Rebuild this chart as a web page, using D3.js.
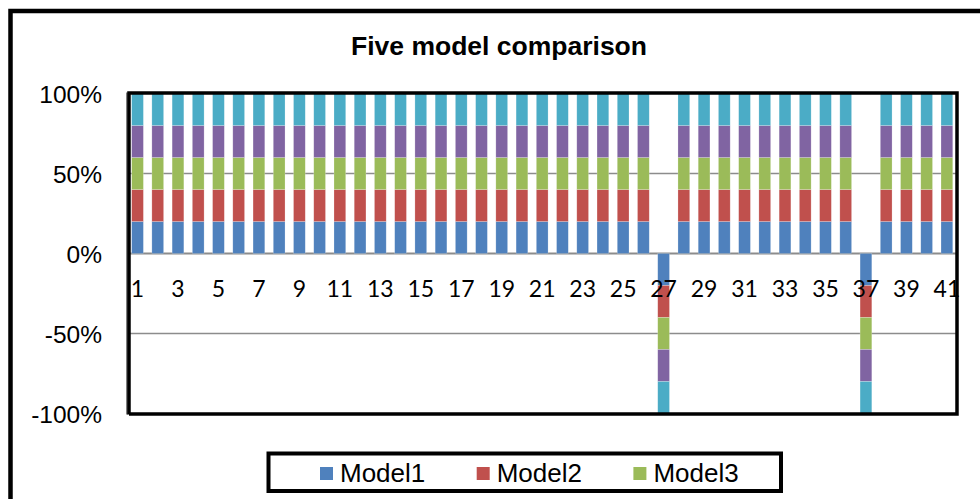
<!DOCTYPE html>
<html><head><meta charset="utf-8">
<script src="https://cdn.jsdelivr.net/npm/d3@7"></script>
<style>html,body{margin:0;padding:0;background:#fff;overflow:hidden}</style>
</head><body>
<svg id="c" width="980" height="499"></svg>
<script>
const categories = d3.range(1, 42).map(String);
const seriesNames = ["Model1","Model2","Model3","Model4","Model5"];
const colors = ["#4F81BD","#C0504D","#9BBB59","#8064A2","#4BACC6"];
// share of each model per category (percent); categories 27 and 37 are negative
const model1 = categories.map(c => (c==="27"||c==="37") ? -20 : 20);
const model2 = categories.map(c => (c==="27"||c==="37") ? -20 : 20);
const model3 = categories.map(c => (c==="27"||c==="37") ? -20 : 20);
const model4 = categories.map(c => (c==="27"||c==="37") ? -20 : 20);
const model5 = categories.map(c => (c==="27"||c==="37") ? -20 : 20);
const yTicks = [-100, -50, 0, 50, 100];
const xTickLabels = categories.filter((c,i) => i % 2 === 0);
const legendShown = ["Model1","Model2","Model3"];

const values = [model1, model2, model3, model4, model5];
const svg = d3.select("#c");
const L = 127.4, R = 957, T = 93.5, B = 413.5;
const x = d3.scaleBand().domain(categories).range([L, R]).paddingInner(0.42).paddingOuter(0.21);
const y = d3.scaleLinear().domain([-100, 100]).range([B, T]);

// outer chart frame
svg.append("rect").attr("x", 10.5).attr("y", 11).attr("width", 1000).attr("height", 520)
  .attr("fill", "none").attr("stroke", "#000").attr("stroke-width", 4.5);

// title
svg.append("text").attr("x", 499).attr("y", 55).attr("text-anchor", "middle")
  .attr("font-family", "Liberation Sans, Arial, sans-serif").attr("font-weight", "bold")
  .attr("font-size", 26.5).text("Five model comparison");

// gridlines
svg.append("g").selectAll("line").data(yTicks.filter(t => t !== 100 && t !== -100)).join("line")
  .attr("x1", L).attr("x2", R).attr("y1", d => y(d)).attr("y2", d => y(d))
  .attr("stroke", "#8c8c8c").attr("stroke-width", d => d === 0 ? 2 : 1.5);

// stacked segments
const rows = categories.map((c, i) => {
  let pos = 0, neg = 0;
  return values.map((v, s) => {
    const val = v[i];
    let y0, y1;
    if (val >= 0) { y0 = pos; y1 = pos + val; pos = y1; }
    else { y0 = neg; y1 = neg + val; neg = y1; }
    return {c, s, y0, y1};
  });
}).flat();

svg.append("g").selectAll("rect").data(rows).join("rect")
  .attr("x", d => x(d.c)).attr("width", x.bandwidth())
  .attr("y", d => Math.min(y(d.y0), y(d.y1)))
  .attr("height", d => Math.abs(y(d.y0) - y(d.y1)))
  .attr("fill", d => colors[d.s])
  .attr("stroke", "rgba(255,255,255,0.35)").attr("stroke-width", 0.6);

// plot frame
svg.append("line").attr("x1", 127).attr("x2", 127).attr("y1", T - 1).attr("y2", B + 1)
  .attr("stroke", "#7f7f7f").attr("stroke-width", 2);
svg.append("path")
  .attr("d", `M129,${B+1} L129,93 L957,93 L957,414 L129,414`)
  .attr("fill", "none").attr("stroke", "#000").attr("stroke-width", 3.5);

// y axis labels
const yAxis = d3.axisLeft(y).tickValues(yTicks).tickSize(0).tickPadding(0)
  .tickFormat(d => d + "%");
const gy = svg.append("g").attr("transform", "translate(102,0)").call(yAxis);
gy.select(".domain").remove();
gy.selectAll("text").attr("font-family", "Liberation Sans, Arial, sans-serif")
  .attr("font-size", 24.5).attr("fill", "#000").attr("dy", "0.36em");

// x axis labels (at 0 line)
const xAxis = d3.axisBottom(x).tickValues(xTickLabels).tickSize(0).tickPadding(0);
const gx = svg.append("g").attr("transform", "translate(0,297)").call(xAxis);
gx.select(".domain").remove();
gx.selectAll("text").attr("font-family", "Lato, Carlito, sans-serif")
  .attr("font-size", 23).attr("fill", "#000").attr("dy", 0);

// legend
const lg = svg.append("g");
lg.append("rect").attr("x", 268.5).attr("y", 453.5).attr("width", 512.5).attr("height", 37.5)
  .attr("fill", "#fff").attr("stroke", "#000").attr("stroke-width", 4);
const items = lg.selectAll("g.item").data(legendShown).join("g").attr("class", "item")
  .attr("transform", (d, i) => `translate(${320 + i * 156.7},0)`);
items.append("rect").attr("x", 0).attr("y", 467).attr("width", 13).attr("height", 13)
  .attr("fill", d => colors[seriesNames.indexOf(d)]);
items.append("text").attr("x", 20).attr("y", 481.5)
  .attr("font-family", "Liberation Sans, Arial, sans-serif").attr("font-size", 26)
  .text(d => d);
</script>
</body></html>
